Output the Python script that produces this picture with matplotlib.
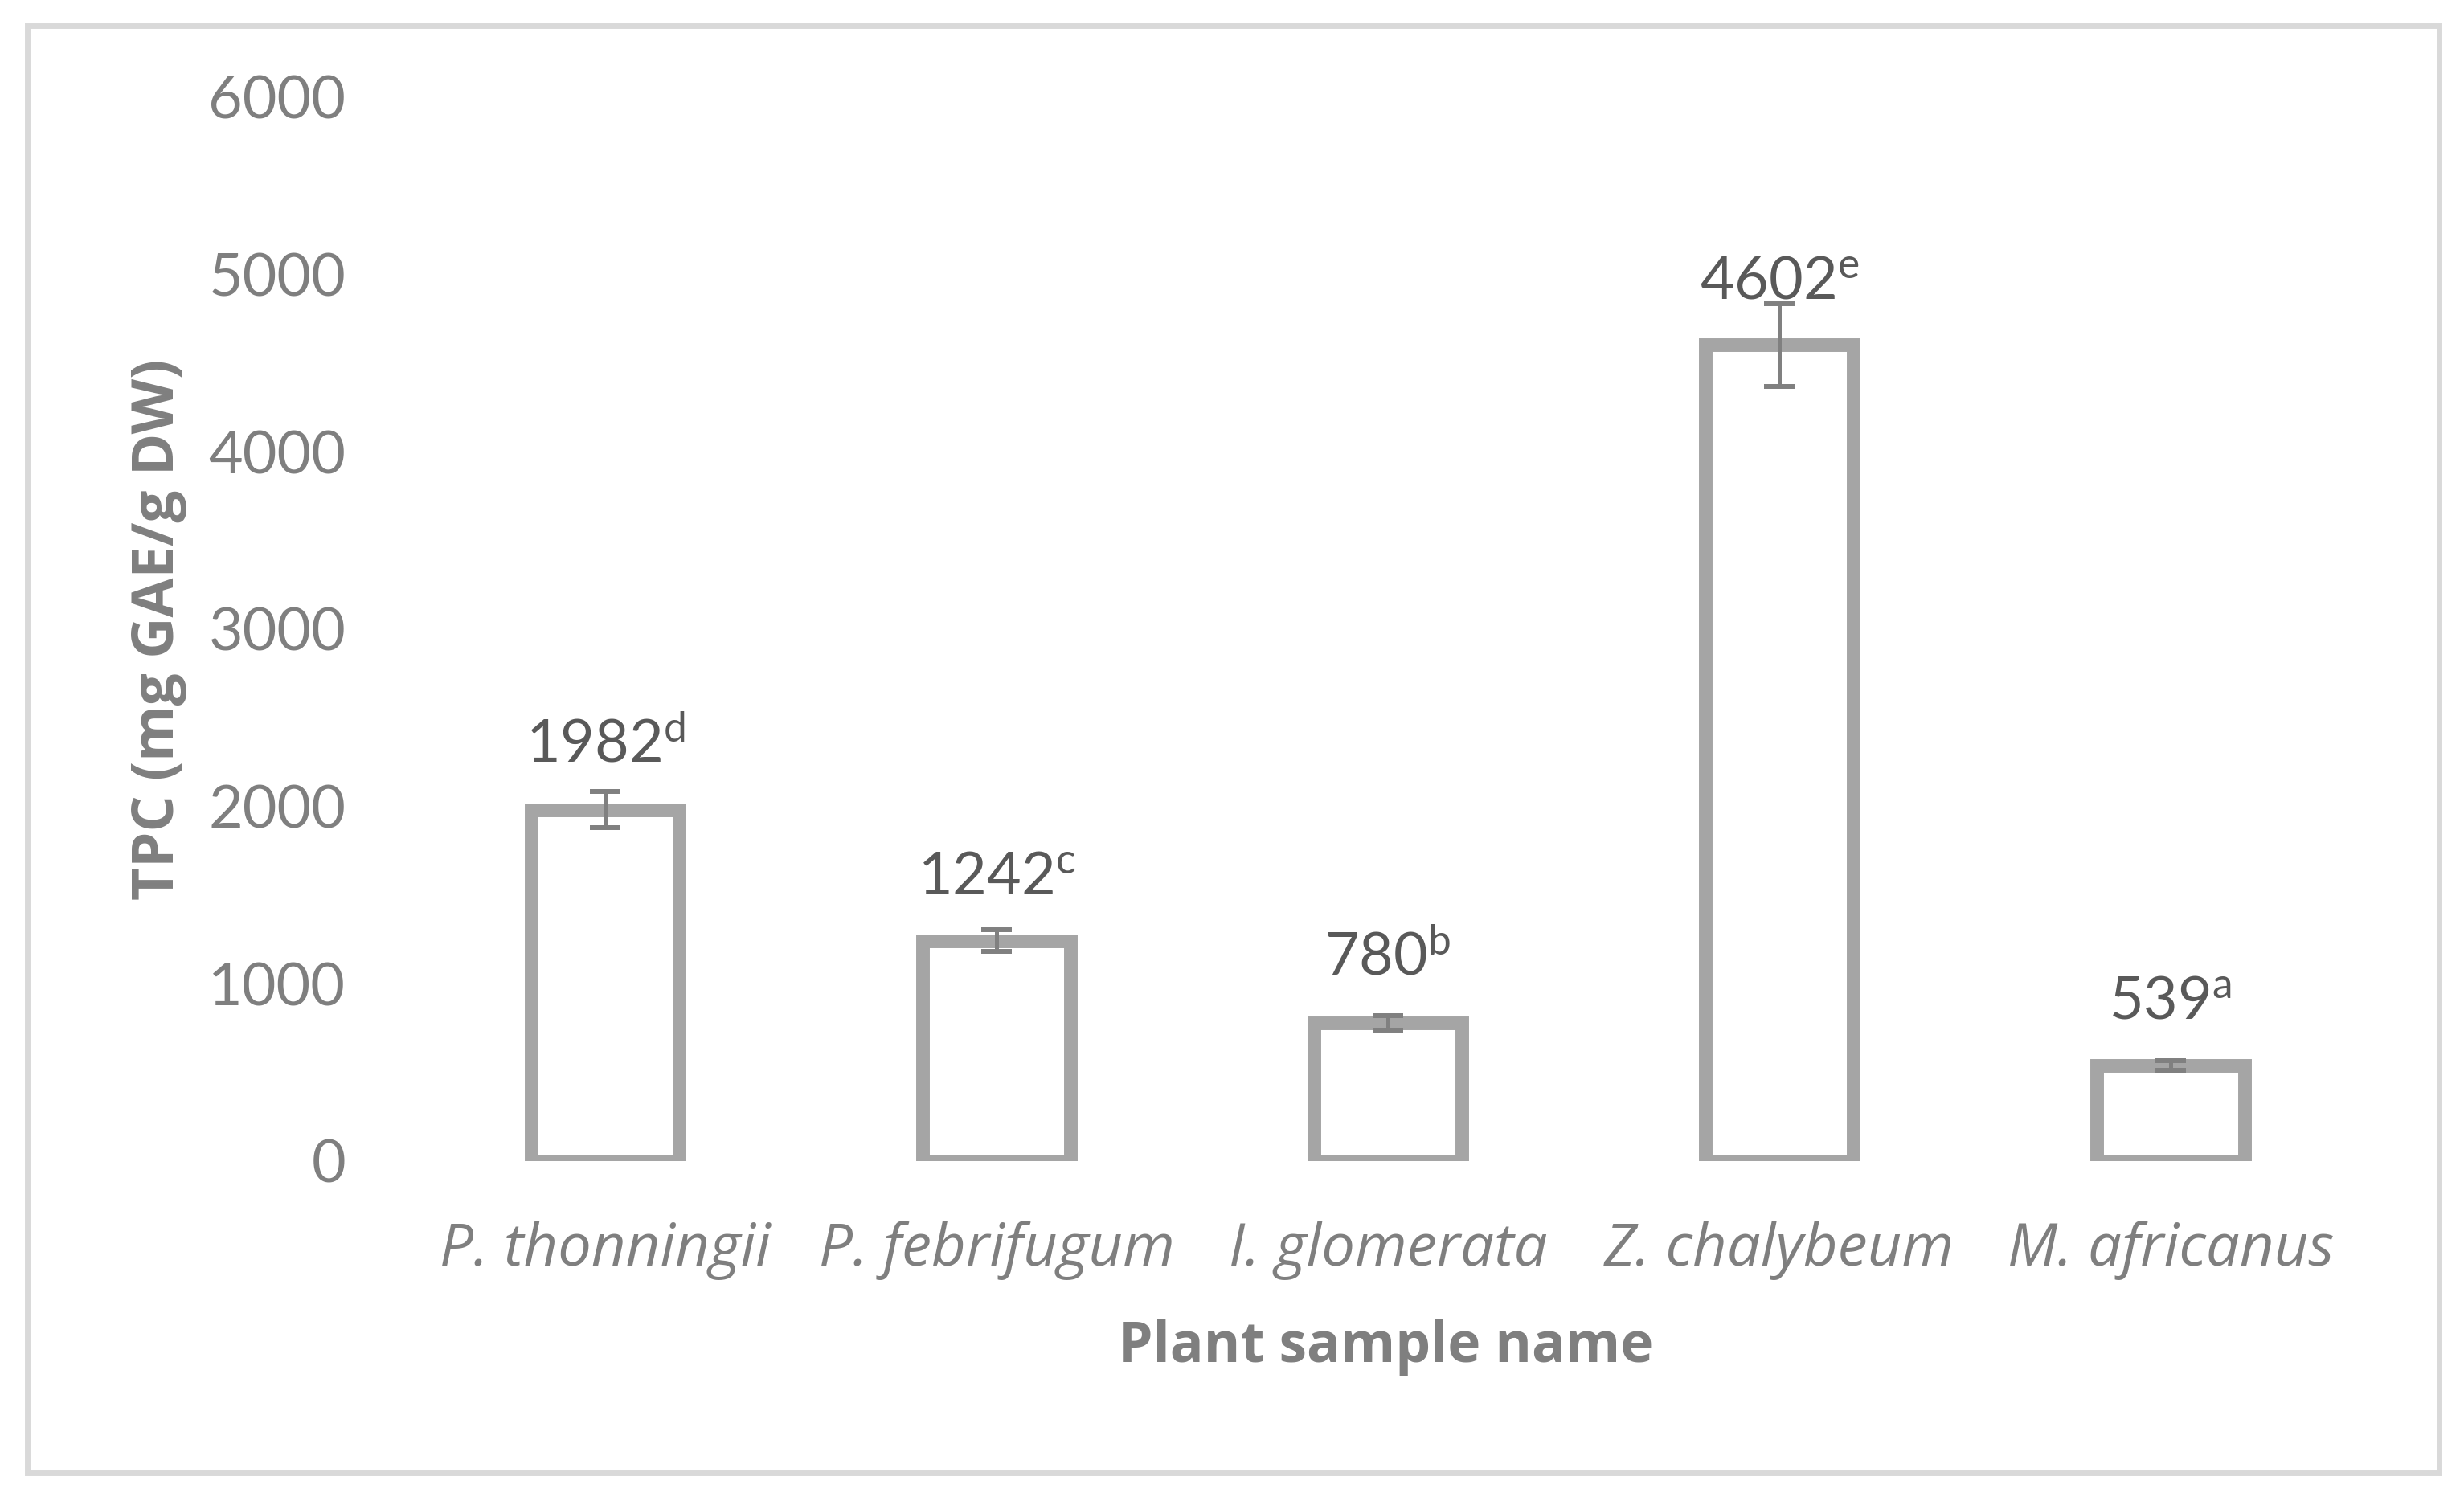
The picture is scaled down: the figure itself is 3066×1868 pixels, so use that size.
import matplotlib
matplotlib.use("Agg")
import matplotlib.pyplot as plt
from matplotlib.patches import Rectangle

# data
plants = ["P. thonningii", "P. febrifugum", "I. glomerata", "Z. chalybeum", "M. africanus"]
tpc = [1982, 1242, 780, 4602, 539]
tpc_err = [102, 61, 41, 233, 29]
letters = ["d", "c", "b", "e", "a"]
yticks = [0, 1000, 2000, 3000, 4000, 5000, 6000]

plt.rcParams["font.family"] = ["Lato", "DejaVu Sans"]
plt.rcParams["mathtext.fontset"] = "custom"
plt.rcParams["mathtext.rm"] = "Lato"
plt.rcParams["mathtext.it"] = "Lato:italic"

W, H, DPI = 3066, 1868, 100
fig = plt.figure(figsize=(W / DPI, H / DPI), dpi=DPI)
fig.patch.set_facecolor("white")

# axes box in pixels: x 509.5..2944.5, y(0)=1445, y(6000)=121
left, right = 509.5, 2944.5
bottom, top = 1445, 121
ax = fig.add_axes([left / W, 1 - bottom / H, (right - left) / W, (bottom - top) / H])

x = list(range(len(plants)))
ax.bar(x, tpc, width=0.378, facecolor="white", edgecolor="#A5A5A5",
       linewidth=12.2, zorder=2)
ax.errorbar(x, tpc, yerr=tpc_err, fmt="none", ecolor="#808080",
            elinewidth=3.6, capsize=13.7, capthick=4.3, zorder=3)

for xi, v, lt in zip(x, tpc, letters):
    ax.annotate(f"{v}$^{{\\mathrm{{{lt}}}}}$", (xi, v), xytext=(0, 42),
                textcoords="offset points", ha="center", va="baseline",
                fontsize=53, color="#595959", zorder=4)

ax.set_xlim(-0.5, 4.5)
ax.set_ylim(0, 6000)
ax.set_yticks(yticks)
ax.set_yticklabels([str(t) for t in yticks])
ax.set_xticks(x)
ax.set_xticklabels(plants, fontstyle="italic", family=["Open Sans", "DejaVu Sans"])
ax.tick_params(axis="y", length=0, pad=57, labelsize=53, labelcolor="#7F7F7F")
ax.tick_params(axis="x", length=0, pad=53, labelsize=53.5, labelcolor="#7F7F7F")
for s in ax.spines.values():
    s.set_visible(False)

ax.set_xlabel("Plant sample name", fontsize=50, fontweight="bold",
              color="#7F7F7F", va="center", family=["Open Sans", "DejaVu Sans"])
ax.xaxis.set_label_coords(0.499, -0.175)
ax.set_ylabel("TPC (mg GAE/g DW)", fontsize=51, fontweight="bold",
              color="#7F7F7F", va="center", family=["Open Sans", "DejaVu Sans"])
ax.yaxis.set_label_coords(-0.1285, 0.5)

# light grey frame around the chart
fig.add_artist(Rectangle((33.5 / W, 1 - 1832.5 / H), (3034.5 - 33.5) / W,
                         (1832.5 - 31.5) / H, transform=fig.transFigure,
                         fill=False, edgecolor="#D9D9D9", linewidth=5))

fig.savefig("out.png", dpi=DPI)
